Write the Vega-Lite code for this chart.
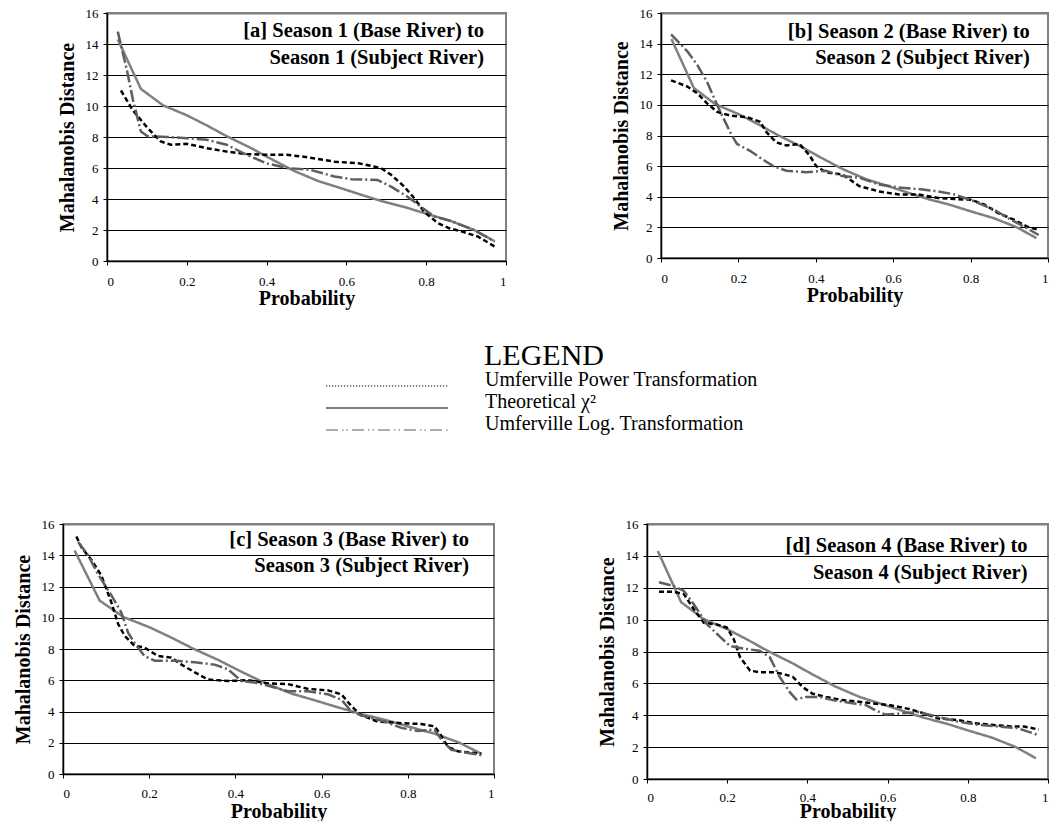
{
  "$schema": "https://vega.github.io/schema/vega-lite/v6.json",
  "padding": {"left": 12, "top": 6, "right": 0, "bottom": 0},
  "background": "white",
  "datasets": {
    "curves": [
      {"panel": "all", "series": "theory", "p": 0.027, "d": 14.3},
      {"panel": "all", "series": "theory", "p": 0.085, "d": 11.1},
      {"panel": "all", "series": "theory", "p": 0.14, "d": 10.05},
      {"panel": "all", "series": "theory", "p": 0.2, "d": 9.4},
      {"panel": "all", "series": "theory", "p": 0.25, "d": 8.75},
      {"panel": "all", "series": "theory", "p": 0.3, "d": 8.05},
      {"panel": "all", "series": "theory", "p": 0.36, "d": 7.3},
      {"panel": "all", "series": "theory", "p": 0.41, "d": 6.6},
      {"panel": "all", "series": "theory", "p": 0.47, "d": 5.8},
      {"panel": "all", "series": "theory", "p": 0.53, "d": 5.15},
      {"panel": "all", "series": "theory", "p": 0.58, "d": 4.75},
      {"panel": "all", "series": "theory", "p": 0.64, "d": 4.25},
      {"panel": "all", "series": "theory", "p": 0.69, "d": 3.85},
      {"panel": "all", "series": "theory", "p": 0.75, "d": 3.45},
      {"panel": "all", "series": "theory", "p": 0.8, "d": 3.05},
      {"panel": "all", "series": "theory", "p": 0.86, "d": 2.6},
      {"panel": "all", "series": "theory", "p": 0.92, "d": 2.0},
      {"panel": "all", "series": "theory", "p": 0.97, "d": 1.3},

      {"panel": "a", "series": "power", "p": 0.035, "d": 11.0},
      {"panel": "a", "series": "power", "p": 0.064, "d": 9.75},
      {"panel": "a", "series": "power", "p": 0.102, "d": 8.57},
      {"panel": "a", "series": "power", "p": 0.135, "d": 7.71},
      {"panel": "a", "series": "power", "p": 0.16, "d": 7.5},
      {"panel": "a", "series": "power", "p": 0.2, "d": 7.56},
      {"panel": "a", "series": "power", "p": 0.25, "d": 7.28},
      {"panel": "a", "series": "power", "p": 0.3, "d": 7.06},
      {"panel": "a", "series": "power", "p": 0.35, "d": 6.9},
      {"panel": "a", "series": "power", "p": 0.4, "d": 6.85},
      {"panel": "a", "series": "power", "p": 0.45, "d": 6.85},
      {"panel": "a", "series": "power", "p": 0.49, "d": 6.74},
      {"panel": "a", "series": "power", "p": 0.57, "d": 6.41},
      {"panel": "a", "series": "power", "p": 0.63, "d": 6.31},
      {"panel": "a", "series": "power", "p": 0.687, "d": 5.99},
      {"panel": "a", "series": "power", "p": 0.712, "d": 5.56},
      {"panel": "a", "series": "power", "p": 0.745, "d": 4.8},
      {"panel": "a", "series": "power", "p": 0.77, "d": 4.05},
      {"panel": "a", "series": "power", "p": 0.795, "d": 3.18},
      {"panel": "a", "series": "power", "p": 0.829, "d": 2.44},
      {"panel": "a", "series": "power", "p": 0.858, "d": 2.11},
      {"panel": "a", "series": "power", "p": 0.89, "d": 1.9},
      {"panel": "a", "series": "power", "p": 0.93, "d": 1.57},
      {"panel": "a", "series": "power", "p": 0.972, "d": 0.93},

      {"panel": "a", "series": "log", "p": 0.027, "d": 14.8},
      {"panel": "a", "series": "log", "p": 0.05, "d": 12.3},
      {"panel": "a", "series": "log", "p": 0.065, "d": 10.4},
      {"panel": "a", "series": "log", "p": 0.085, "d": 8.35},
      {"panel": "a", "series": "log", "p": 0.102, "d": 8.05},
      {"panel": "a", "series": "log", "p": 0.15, "d": 8.0},
      {"panel": "a", "series": "log", "p": 0.2, "d": 7.92},
      {"panel": "a", "series": "log", "p": 0.25, "d": 7.82},
      {"panel": "a", "series": "log", "p": 0.3, "d": 7.5},
      {"panel": "a", "series": "log", "p": 0.35, "d": 6.85},
      {"panel": "a", "series": "log", "p": 0.4, "d": 6.3},
      {"panel": "a", "series": "log", "p": 0.45, "d": 6.0},
      {"panel": "a", "series": "log", "p": 0.51, "d": 5.88},
      {"panel": "a", "series": "log", "p": 0.57, "d": 5.45},
      {"panel": "a", "series": "log", "p": 0.612, "d": 5.28},
      {"panel": "a", "series": "log", "p": 0.678, "d": 5.23},
      {"panel": "a", "series": "log", "p": 0.712, "d": 4.8},
      {"panel": "a", "series": "log", "p": 0.753, "d": 4.15},
      {"panel": "a", "series": "log", "p": 0.787, "d": 3.5},
      {"panel": "a", "series": "log", "p": 0.82, "d": 2.86},
      {"panel": "a", "series": "log", "p": 0.86, "d": 2.6},
      {"panel": "a", "series": "log", "p": 0.89, "d": 2.3},
      {"panel": "a", "series": "log", "p": 0.92, "d": 2.0},
      {"panel": "a", "series": "log", "p": 0.972, "d": 1.25},

      {"panel": "b", "series": "power", "p": 0.026, "d": 11.6},
      {"panel": "b", "series": "power", "p": 0.068, "d": 11.2},
      {"panel": "b", "series": "power", "p": 0.094, "d": 10.75},
      {"panel": "b", "series": "power", "p": 0.119, "d": 10.1},
      {"panel": "b", "series": "power", "p": 0.145, "d": 9.55},
      {"panel": "b", "series": "power", "p": 0.179, "d": 9.3},
      {"panel": "b", "series": "power", "p": 0.222, "d": 9.2},
      {"panel": "b", "series": "power", "p": 0.256, "d": 8.9},
      {"panel": "b", "series": "power", "p": 0.273, "d": 8.2},
      {"panel": "b", "series": "power", "p": 0.298, "d": 7.55},
      {"panel": "b", "series": "power", "p": 0.324, "d": 7.35},
      {"panel": "b", "series": "power", "p": 0.358, "d": 7.45},
      {"panel": "b", "series": "power", "p": 0.384, "d": 6.7},
      {"panel": "b", "series": "power", "p": 0.401, "d": 6.0},
      {"panel": "b", "series": "power", "p": 0.426, "d": 5.6},
      {"panel": "b", "series": "power", "p": 0.469, "d": 5.45},
      {"panel": "b", "series": "power", "p": 0.512, "d": 4.7},
      {"panel": "b", "series": "power", "p": 0.563, "d": 4.35},
      {"panel": "b", "series": "power", "p": 0.614, "d": 4.15},
      {"panel": "b", "series": "power", "p": 0.665, "d": 4.15},
      {"panel": "b", "series": "power", "p": 0.716, "d": 3.92},
      {"panel": "b", "series": "power", "p": 0.759, "d": 3.85},
      {"panel": "b", "series": "power", "p": 0.801, "d": 3.8},
      {"panel": "b", "series": "power", "p": 0.835, "d": 3.5},
      {"panel": "b", "series": "power", "p": 0.87, "d": 2.95},
      {"panel": "b", "series": "power", "p": 0.912, "d": 2.5},
      {"panel": "b", "series": "power", "p": 0.946, "d": 2.05},
      {"panel": "b", "series": "power", "p": 0.976, "d": 1.83},

      {"panel": "b", "series": "log", "p": 0.026, "d": 14.6},
      {"panel": "b", "series": "log", "p": 0.068, "d": 13.5},
      {"panel": "b", "series": "log", "p": 0.094, "d": 12.6},
      {"panel": "b", "series": "log", "p": 0.119, "d": 11.5},
      {"panel": "b", "series": "log", "p": 0.145, "d": 10.0},
      {"panel": "b", "series": "log", "p": 0.162, "d": 9.1},
      {"panel": "b", "series": "log", "p": 0.179, "d": 8.2},
      {"panel": "b", "series": "log", "p": 0.196, "d": 7.45},
      {"panel": "b", "series": "log", "p": 0.23, "d": 7.0},
      {"panel": "b", "series": "log", "p": 0.256, "d": 6.55},
      {"panel": "b", "series": "log", "p": 0.29, "d": 6.0},
      {"panel": "b", "series": "log", "p": 0.324, "d": 5.7},
      {"panel": "b", "series": "log", "p": 0.375, "d": 5.6},
      {"panel": "b", "series": "log", "p": 0.426, "d": 5.7},
      {"panel": "b", "series": "log", "p": 0.469, "d": 5.35},
      {"panel": "b", "series": "log", "p": 0.512, "d": 5.25},
      {"panel": "b", "series": "log", "p": 0.563, "d": 4.8},
      {"panel": "b", "series": "log", "p": 0.614, "d": 4.6},
      {"panel": "b", "series": "log", "p": 0.665, "d": 4.5},
      {"panel": "b", "series": "log", "p": 0.716, "d": 4.35},
      {"panel": "b", "series": "log", "p": 0.759, "d": 4.15},
      {"panel": "b", "series": "log", "p": 0.81, "d": 3.7},
      {"panel": "b", "series": "log", "p": 0.861, "d": 3.15},
      {"panel": "b", "series": "log", "p": 0.904, "d": 2.5},
      {"panel": "b", "series": "log", "p": 0.938, "d": 2.05},
      {"panel": "b", "series": "log", "p": 0.976, "d": 1.5},

      {"panel": "c", "series": "power", "p": 0.031, "d": 15.2},
      {"panel": "c", "series": "power", "p": 0.043, "d": 14.5},
      {"panel": "c", "series": "power", "p": 0.066, "d": 13.7},
      {"panel": "c", "series": "power", "p": 0.089, "d": 12.7},
      {"panel": "c", "series": "power", "p": 0.112, "d": 11.0},
      {"panel": "c", "series": "power", "p": 0.128, "d": 9.6},
      {"panel": "c", "series": "power", "p": 0.143, "d": 8.85},
      {"panel": "c", "series": "power", "p": 0.166, "d": 8.2},
      {"panel": "c", "series": "power", "p": 0.189, "d": 8.1},
      {"panel": "c", "series": "power", "p": 0.22, "d": 7.55},
      {"panel": "c", "series": "power", "p": 0.251, "d": 7.45},
      {"panel": "c", "series": "power", "p": 0.275, "d": 7.0},
      {"panel": "c", "series": "power", "p": 0.306, "d": 6.5},
      {"panel": "c", "series": "power", "p": 0.336, "d": 6.05},
      {"panel": "c", "series": "power", "p": 0.383, "d": 5.95},
      {"panel": "c", "series": "power", "p": 0.429, "d": 6.0},
      {"panel": "c", "series": "power", "p": 0.476, "d": 5.8},
      {"panel": "c", "series": "power", "p": 0.522, "d": 5.75},
      {"panel": "c", "series": "power", "p": 0.568, "d": 5.45},
      {"panel": "c", "series": "power", "p": 0.615, "d": 5.35},
      {"panel": "c", "series": "power", "p": 0.646, "d": 5.1},
      {"panel": "c", "series": "power", "p": 0.669, "d": 4.35},
      {"panel": "c", "series": "power", "p": 0.692, "d": 3.75},
      {"panel": "c", "series": "power", "p": 0.731, "d": 3.35},
      {"panel": "c", "series": "power", "p": 0.762, "d": 3.3},
      {"panel": "c", "series": "power", "p": 0.785, "d": 3.25},
      {"panel": "c", "series": "power", "p": 0.831, "d": 3.2},
      {"panel": "c", "series": "power", "p": 0.862, "d": 3.05},
      {"panel": "c", "series": "power", "p": 0.874, "d": 2.6},
      {"panel": "c", "series": "power", "p": 0.893, "d": 1.75},
      {"panel": "c", "series": "power", "p": 0.916, "d": 1.45},
      {"panel": "c", "series": "power", "p": 0.971, "d": 1.3},

      {"panel": "c", "series": "log", "p": 0.035, "d": 14.85},
      {"panel": "c", "series": "log", "p": 0.058, "d": 14.0},
      {"panel": "c", "series": "log", "p": 0.081, "d": 12.8},
      {"panel": "c", "series": "log", "p": 0.112, "d": 11.45},
      {"panel": "c", "series": "log", "p": 0.135, "d": 10.35},
      {"panel": "c", "series": "log", "p": 0.151, "d": 9.05},
      {"panel": "c", "series": "log", "p": 0.166, "d": 8.4},
      {"panel": "c", "series": "log", "p": 0.189, "d": 7.55},
      {"panel": "c", "series": "log", "p": 0.213, "d": 7.25},
      {"panel": "c", "series": "log", "p": 0.259, "d": 7.25},
      {"panel": "c", "series": "log", "p": 0.306, "d": 7.15},
      {"panel": "c", "series": "log", "p": 0.352, "d": 7.0},
      {"panel": "c", "series": "log", "p": 0.383, "d": 6.7},
      {"panel": "c", "series": "log", "p": 0.414, "d": 5.95},
      {"panel": "c", "series": "log", "p": 0.445, "d": 5.85},
      {"panel": "c", "series": "log", "p": 0.476, "d": 5.65},
      {"panel": "c", "series": "log", "p": 0.522, "d": 5.3},
      {"panel": "c", "series": "log", "p": 0.568, "d": 5.3},
      {"panel": "c", "series": "log", "p": 0.615, "d": 5.1},
      {"panel": "c", "series": "log", "p": 0.646, "d": 4.75},
      {"panel": "c", "series": "log", "p": 0.669, "d": 4.0},
      {"panel": "c", "series": "log", "p": 0.692, "d": 3.75},
      {"panel": "c", "series": "log", "p": 0.746, "d": 3.35},
      {"panel": "c", "series": "log", "p": 0.785, "d": 2.95},
      {"panel": "c", "series": "log", "p": 0.824, "d": 2.75},
      {"panel": "c", "series": "log", "p": 0.862, "d": 2.85},
      {"panel": "c", "series": "log", "p": 0.878, "d": 2.2},
      {"panel": "c", "series": "log", "p": 0.901, "d": 1.55},
      {"panel": "c", "series": "log", "p": 0.94, "d": 1.35},
      {"panel": "c", "series": "log", "p": 0.971, "d": 1.2},

      {"panel": "d", "series": "power", "p": 0.03, "d": 11.75},
      {"panel": "d", "series": "power", "p": 0.067, "d": 11.75},
      {"panel": "d", "series": "power", "p": 0.092, "d": 11.6},
      {"panel": "d", "series": "power", "p": 0.117, "d": 10.65},
      {"panel": "d", "series": "power", "p": 0.142, "d": 9.8},
      {"panel": "d", "series": "power", "p": 0.174, "d": 9.7},
      {"panel": "d", "series": "power", "p": 0.199, "d": 9.5},
      {"panel": "d", "series": "power", "p": 0.216, "d": 8.8},
      {"panel": "d", "series": "power", "p": 0.232, "d": 7.65},
      {"panel": "d", "series": "power", "p": 0.257, "d": 6.8},
      {"panel": "d", "series": "power", "p": 0.281, "d": 6.7},
      {"panel": "d", "series": "power", "p": 0.314, "d": 6.7},
      {"panel": "d", "series": "power", "p": 0.339, "d": 6.6},
      {"panel": "d", "series": "power", "p": 0.364, "d": 6.4},
      {"panel": "d", "series": "power", "p": 0.389, "d": 5.75},
      {"panel": "d", "series": "power", "p": 0.413, "d": 5.35},
      {"panel": "d", "series": "power", "p": 0.446, "d": 5.15},
      {"panel": "d", "series": "power", "p": 0.487, "d": 4.95},
      {"panel": "d", "series": "power", "p": 0.528, "d": 4.85},
      {"panel": "d", "series": "power", "p": 0.561, "d": 4.75},
      {"panel": "d", "series": "power", "p": 0.602, "d": 4.65},
      {"panel": "d", "series": "power", "p": 0.652, "d": 4.4},
      {"panel": "d", "series": "power", "p": 0.693, "d": 4.1},
      {"panel": "d", "series": "power", "p": 0.726, "d": 3.8},
      {"panel": "d", "series": "power", "p": 0.775, "d": 3.7},
      {"panel": "d", "series": "power", "p": 0.816, "d": 3.5},
      {"panel": "d", "series": "power", "p": 0.858, "d": 3.4},
      {"panel": "d", "series": "power", "p": 0.907, "d": 3.3},
      {"panel": "d", "series": "power", "p": 0.94, "d": 3.3},
      {"panel": "d", "series": "power", "p": 0.977, "d": 3.1},

      {"panel": "d", "series": "log", "p": 0.03, "d": 12.35},
      {"panel": "d", "series": "log", "p": 0.067, "d": 12.1},
      {"panel": "d", "series": "log", "p": 0.092, "d": 11.8},
      {"panel": "d", "series": "log", "p": 0.117, "d": 10.95},
      {"panel": "d", "series": "log", "p": 0.15, "d": 9.7},
      {"panel": "d", "series": "log", "p": 0.183, "d": 8.9},
      {"panel": "d", "series": "log", "p": 0.207, "d": 8.35},
      {"panel": "d", "series": "log", "p": 0.249, "d": 8.15},
      {"panel": "d", "series": "log", "p": 0.281, "d": 8.05},
      {"panel": "d", "series": "log", "p": 0.306, "d": 7.65},
      {"panel": "d", "series": "log", "p": 0.331, "d": 6.4},
      {"panel": "d", "series": "log", "p": 0.356, "d": 5.45},
      {"panel": "d", "series": "log", "p": 0.372, "d": 5.0},
      {"panel": "d", "series": "log", "p": 0.397, "d": 5.15},
      {"panel": "d", "series": "log", "p": 0.43, "d": 5.15},
      {"panel": "d", "series": "log", "p": 0.463, "d": 4.95},
      {"panel": "d", "series": "log", "p": 0.512, "d": 4.75},
      {"panel": "d", "series": "log", "p": 0.545, "d": 4.65},
      {"panel": "d", "series": "log", "p": 0.57, "d": 4.3},
      {"panel": "d", "series": "log", "p": 0.594, "d": 4.05},
      {"panel": "d", "series": "log", "p": 0.627, "d": 4.1},
      {"panel": "d", "series": "log", "p": 0.677, "d": 4.2},
      {"panel": "d", "series": "log", "p": 0.726, "d": 3.9},
      {"panel": "d", "series": "log", "p": 0.775, "d": 3.6},
      {"panel": "d", "series": "log", "p": 0.825, "d": 3.4},
      {"panel": "d", "series": "log", "p": 0.874, "d": 3.3},
      {"panel": "d", "series": "log", "p": 0.923, "d": 3.2},
      {"panel": "d", "series": "log", "p": 0.977, "d": 2.75}
    ]
  },
  "bounds": "flush",
  "spacing": 511,
  "vconcat": [
    {
      "bounds": "flush",
      "spacing": 0,
      "hconcat": [
        {"width": 44, "height": 248, "view": {"stroke": null}, "data": {"values": []}, "mark": {"type": "point", "opacity": 0}},
        {
          "bounds": "flush",
          "spacing": 155,
          "hconcat": [
            {
              "width": 399, "height": 248,
              "layer": [
                {
                  "data": {"name": "curves"},
                  "transform": [{"filter": "datum.panel == 'a' || datum.panel == 'all'"}],
                  "mark": {"type": "line", "strokeWidth": 2.5},
                  "encoding": {
                    "x": {"field": "p", "type": "quantitative", "scale": {"domain": [0, 1]}, "axis": {"values": [0, 0.2, 0.4, 0.6, 0.8, 1], "format": "~g", "title": "Probability", "labelPadding": 10, "titlePadding": 0}},
                    "y": {"field": "d", "type": "quantitative", "scale": {"domain": [0, 16]}, "axis": {"values": [0, 2, 4, 6, 8, 10, 12, 14, 16], "tickCount": 9, "labelOverlap": false, "title": "Mahalanobis Distance"}},
                    "color": {"field": "series", "type": "nominal", "scale": {"domain": ["power", "theory", "log"], "range": ["#000000", "#808080", "#5e5e5e"]},
                      "legend": {"title": "LEGEND", "labelExpr": "datum.value == 'power' ? 'Umferville Power Transformation' : datum.value == 'theory' ? 'Theoretical χ²' : 'Umferville Log. Transformation'",
                        "encode": {"symbols": {"update": {"strokeDash": {"signal": "datum.value == 'power' ? [1.2, 1.8] : datum.value == 'theory' ? [1, 0] : [12, 4, 1.5, 3, 1.5, 4]"}, "strokeWidth": {"signal": "datum.value == 'theory' ? 2 : 1"}}}, "title": {"update": {"dx": {"value": 107}}}}}},
                    "strokeDash": {"condition": [{"test": "datum.series == 'power'", "value": [5, 3]}, {"test": "datum.series == 'log'", "value": [12, 3, 2, 3]}], "value": [1, 0]}
                  }
                },
                {
                  "data": {"values": [{}]},
                  "mark": {"type": "text", "align": "right", "baseline": "alphabetic", "fontSize": 20.5, "fontWeight": "bold", "lineHeight": 26.5, "font": "Liberation Serif", "color": "black"},
                  "encoding": {"x": {"datum": 0.945, "type": "quantitative"}, "y": {"datum": 14.42, "type": "quantitative"}, "text": {"value": ["[a] Season 1 (Base River) to", "Season 1 (Subject River)"]}}
                }
              ]
            },
            {
              "width": 387, "height": 245,
              "layer": [
                {
                  "data": {"name": "curves"},
                  "transform": [{"filter": "datum.panel == 'b' || datum.panel == 'all'"}],
                  "mark": {"type": "line", "strokeWidth": 2.5},
                  "encoding": {
                    "x": {"field": "p", "type": "quantitative", "scale": {"domain": [0, 1]}, "axis": {"values": [0, 0.2, 0.4, 0.6, 0.8, 1], "format": "~g", "title": "Probability", "labelPadding": 10, "titlePadding": 0}},
                    "y": {"field": "d", "type": "quantitative", "scale": {"domain": [0, 16]}, "axis": {"values": [0, 2, 4, 6, 8, 10, 12, 14, 16], "tickCount": 9, "labelOverlap": false, "title": "Mahalanobis Distance"}},
                    "color": {"field": "series", "type": "nominal", "scale": {"domain": ["power", "theory", "log"], "range": ["#000000", "#808080", "#5e5e5e"]},
                      "legend": {"title": "LEGEND", "labelExpr": "datum.value == 'power' ? 'Umferville Power Transformation' : datum.value == 'theory' ? 'Theoretical χ²' : 'Umferville Log. Transformation'",
                        "encode": {"symbols": {"update": {"strokeDash": {"signal": "datum.value == 'power' ? [1.2, 1.8] : datum.value == 'theory' ? [1, 0] : [12, 4, 1.5, 3, 1.5, 4]"}, "strokeWidth": {"signal": "datum.value == 'theory' ? 2 : 1"}}}, "title": {"update": {"dx": {"value": 107}}}}}},
                    "strokeDash": {"condition": [{"test": "datum.series == 'power'", "value": [5, 3]}, {"test": "datum.series == 'log'", "value": [12, 3, 2, 3]}], "value": [1, 0]}
                  }
                },
                {
                  "data": {"values": [{}]},
                  "mark": {"type": "text", "align": "right", "baseline": "alphabetic", "fontSize": 20.5, "fontWeight": "bold", "lineHeight": 26.5, "font": "Liberation Serif", "color": "black"},
                  "encoding": {"x": {"datum": 0.953, "type": "quantitative"}, "y": {"datum": 14.37, "type": "quantitative"}, "text": {"value": ["[b] Season 2 (Base River) to", "Season 2 (Subject River)"]}}
                }
              ]
            }
          ]
        }
      ]
    },
    {
      "bounds": "flush",
      "spacing": 153,
      "hconcat": [
        {
          "width": 431, "height": 250,
          "layer": [
            {
              "data": {"name": "curves"},
              "transform": [{"filter": "datum.panel == 'c' || datum.panel == 'all'"}],
              "mark": {"type": "line", "strokeWidth": 2.5},
              "encoding": {
                "x": {"field": "p", "type": "quantitative", "scale": {"domain": [0, 1]}, "axis": {"values": [0, 0.2, 0.4, 0.6, 0.8, 1], "format": "~g", "title": "Probability", "labelPadding": 9, "titlePadding": 1}},
                "y": {"field": "d", "type": "quantitative", "scale": {"domain": [0, 16]}, "axis": {"values": [0, 2, 4, 6, 8, 10, 12, 14, 16], "tickCount": 9, "labelOverlap": false, "title": "Mahalanobis Distance"}},
                "color": {"field": "series", "type": "nominal", "scale": {"domain": ["power", "theory", "log"], "range": ["#000000", "#808080", "#5e5e5e"]},
                  "legend": {"title": "LEGEND", "labelExpr": "datum.value == 'power' ? 'Umferville Power Transformation' : datum.value == 'theory' ? 'Theoretical χ²' : 'Umferville Log. Transformation'",
                    "encode": {"symbols": {"update": {"strokeDash": {"signal": "datum.value == 'power' ? [1.2, 1.8] : datum.value == 'theory' ? [1, 0] : [12, 4, 1.5, 3, 1.5, 4]"}, "strokeWidth": {"signal": "datum.value == 'theory' ? 2 : 1"}}}, "title": {"update": {"dx": {"value": 107}}}}}},
                "strokeDash": {"condition": [{"test": "datum.series == 'power'", "value": [5, 3]}, {"test": "datum.series == 'log'", "value": [12, 3, 2, 3]}], "value": [1, 0]}
              }
            },
            {
              "data": {"values": [{}]},
              "mark": {"type": "text", "align": "right", "baseline": "alphabetic", "fontSize": 20.5, "fontWeight": "bold", "lineHeight": 26.5, "font": "Liberation Serif", "color": "black"},
              "encoding": {"x": {"datum": 0.942, "type": "quantitative"}, "y": {"datum": 14.6, "type": "quantitative"}, "text": {"value": ["[c] Season 3 (Base River) to", "Season 3 (Subject River)"]}}
            }
          ]
        },
        {
          "width": 401, "height": 255,
          "layer": [
            {
              "data": {"name": "curves"},
              "transform": [{"filter": "datum.panel == 'd' || datum.panel == 'all'"}],
              "mark": {"type": "line", "strokeWidth": 2.5},
              "encoding": {
                "x": {"field": "p", "type": "quantitative", "scale": {"domain": [0, 1]}, "axis": {"values": [0, 0.2, 0.4, 0.6, 0.8, 1], "format": "~g", "title": "Probability", "labelPadding": 8, "titlePadding": -3}},
                "y": {"field": "d", "type": "quantitative", "scale": {"domain": [0, 16]}, "axis": {"values": [0, 2, 4, 6, 8, 10, 12, 14, 16], "tickCount": 9, "labelOverlap": false, "title": "Mahalanobis Distance"}},
                "color": {"field": "series", "type": "nominal", "scale": {"domain": ["power", "theory", "log"], "range": ["#000000", "#808080", "#5e5e5e"]},
                  "legend": {"title": "LEGEND", "labelExpr": "datum.value == 'power' ? 'Umferville Power Transformation' : datum.value == 'theory' ? 'Theoretical χ²' : 'Umferville Log. Transformation'",
                    "encode": {"symbols": {"update": {"strokeDash": {"signal": "datum.value == 'power' ? [1.2, 1.8] : datum.value == 'theory' ? [1, 0] : [12, 4, 1.5, 3, 1.5, 4]"}, "strokeWidth": {"signal": "datum.value == 'theory' ? 2 : 1"}}}, "title": {"update": {"dx": {"value": 107}}}}}},
                "strokeDash": {"condition": [{"test": "datum.series == 'power'", "value": [5, 3]}, {"test": "datum.series == 'log'", "value": [12, 3, 2, 3]}], "value": [1, 0]}
              }
            },
            {
              "data": {"values": [{}]},
              "mark": {"type": "text", "align": "right", "baseline": "alphabetic", "fontSize": 20.5, "fontWeight": "bold", "lineHeight": 26.5, "font": "Liberation Serif", "color": "black"},
              "encoding": {"x": {"datum": 0.949, "type": "quantitative"}, "y": {"datum": 14.24, "type": "quantitative"}, "text": {"value": ["[d] Season 4 (Base River) to", "Season 4 (Subject River)"]}}
            }
          ]
        }
      ]
    }
  ],
  "config": {
    "font": "Liberation Serif",
    "view": {"stroke": "#808080", "strokeWidth": 2},
    "axis": {
      "labelFont": "Liberation Serif", "labelFontSize": 13, "labelColor": "black",
      "titleFont": "Liberation Serif", "titleFontSize": 20, "titleFontWeight": "bold", "titleColor": "black",
      "domainColor": "black", "domainWidth": 1.5, "tickColor": "black", "tickSize": 4, "tickWidth": 1
    },
    "axisX": {"grid": false},
    "axisY": {"grid": true, "gridColor": {"condition": {"test": "datum.value == 16", "value": "#808080"}, "value": "black"}, "gridWidth": {"condition": {"test": "datum.value == 16", "value": 2}, "value": 1}, "gridOpacity": 1, "labelPadding": 5, "titlePadding": 8},
    "legend": {
      "orient": "none", "legendX": 314, "legendY": 328, "padding": 0,
      "titleFont": "Liberation Serif", "titleFontSize": 30, "titleFontWeight": "normal", "titleColor": "black", "titlePadding": 5, "titleAnchor": "start",
      "labelFont": "Liberation Serif", "labelFontSize": 20, "labelColor": "black", "labelBaseline": "alphabetic", "labelLimit": 0,
      "symbolType": "M-6.78,0H6.78", "symbolSize": 324, "symbolFillColor": "transparent", "labelOffset": 88, "rowPadding": 2
    }
  }
}
